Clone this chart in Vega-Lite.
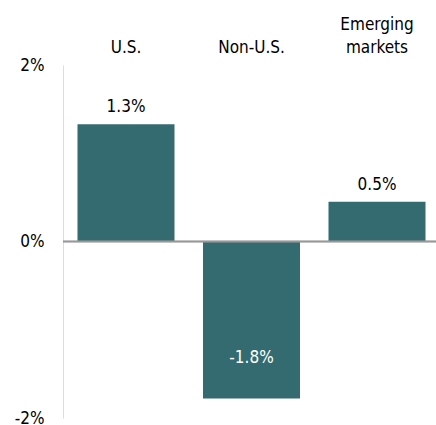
{
  "$schema": "https://vega.github.io/schema/vega-lite/v6.json",
  "width": 373,
  "height": 353,
  "autosize": {"type": "none"},
  "padding": {"left": 63, "top": 65, "right": 0, "bottom": 7},
  "background": "white",
  "config": {
    "view": {"stroke": null},
    "font": "DejaVu Sans Condensed, sans-serif"
  },
  "data": {
    "values": [
      {"region": "U.S.", "value": 1.33, "label": "1.3%"},
      {"region": "Non-U.S.", "value": -1.78, "label": "-1.8%"},
      {"region": "Emerging markets", "value": 0.45, "label": "0.5%"}
    ]
  },
  "encoding": {
    "x": {
      "field": "region",
      "type": "nominal",
      "sort": null,
      "scale": {"range": [0, 377], "paddingInner": 0.227, "paddingOuter": 0.1155},
      "axis": {
        "orient": "top",
        "title": null,
        "domain": false,
        "ticks": false,
        "labelAngle": 0,
        "labelFontSize": 17,
        "labelColor": "#000000",
        "labelPadding": 32,
        "labelBaseline": "bottom",
        "labelLineHeight": 23,
        "labelExpr": "datum.label == 'Emerging markets' ? ['Emerging', 'markets'] : ['', datum.label]"
      }
    }
  },
  "layer": [
    {
      "mark": {"type": "bar", "color": "#336b71"},
      "encoding": {
        "y": {
          "field": "value",
          "type": "quantitative",
          "scale": {"domain": [-2, 2], "nice": false, "zero": true},
          "axis": {
            "title": null,
            "values": [-2, 0, 2],
            "labelExpr": "datum.value + '%'",
            "grid": false,
            "ticks": false,
            "domainColor": "#dddddd",
            "domainWidth": 1,
            "labelFontSize": 17,
            "labelColor": "#000000",
            "labelPadding": 19
          }
        }
      }
    },
    {
      "mark": {"type": "rule", "color": "#999999", "strokeWidth": 1.5},
      "encoding": {"y": {"datum": 0}, "x": null}
    },
    {
      "transform": [{"filter": "datum.value >= 0"}],
      "mark": {"type": "text", "baseline": "alphabetic", "dy": -12, "fontSize": 17, "color": "#000000"},
      "encoding": {
        "y": {"field": "value", "type": "quantitative"},
        "text": {"field": "label"}
      }
    },
    {
      "transform": [{"filter": "datum.value < 0"}],
      "mark": {"type": "text", "baseline": "alphabetic", "dy": -36, "fontSize": 17, "color": "#ffffff"},
      "encoding": {
        "y": {"field": "value", "type": "quantitative"},
        "text": {"field": "label"}
      }
    }
  ]
}
